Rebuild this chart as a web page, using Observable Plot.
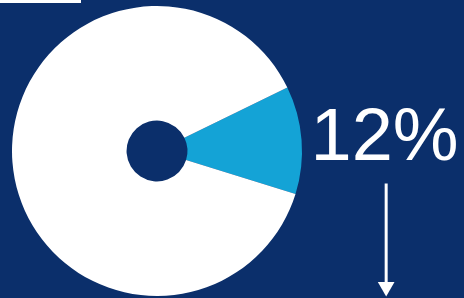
<!DOCTYPE html>
<html>
<head>
<meta charset="utf-8">
<script src="https://cdn.jsdelivr.net/npm/d3@7"></script>
<script src="https://cdn.jsdelivr.net/npm/@observablehq/plot@0.6"></script>
<style>
  html, body { margin: 0; padding: 0; background: #0b2f6b; width: 464px; height: 298px; overflow: hidden; }
  #chart { position: relative; width: 464px; height: 298px; }
  #chart svg { display: block; background: #0b2f6b; }
  .tab { position: absolute; left: 0; top: 0; width: 81px; height: 3px; background: #ffffff; }
</style>
</head>
<body>
<div id="chart"><div class="tab"></div></div>
<script>
// Data
const categories = ["Share", "Rest"];
const values = [12, 88];
const labels = ["12%"];

const colors = { Share: "#14a3d6", Rest: "#ffffff" };
const navy = "#0b2f6b";

const slices = categories.map((c, i) => ({ category: c, value: values[i] }));

// unit scale: pie of radius 1 centered at 0
const pxPerUnit = 145;
const W = 464, H = 298, cx = 157, cy = 151;

const startDeg = 64;
const pie = d3.pie().value(d => d.value).sort(null)
  .startAngle(startDeg * Math.PI / 180)
  .endAngle((startDeg + 360) * Math.PI / 180);

function pieMark(index, scales) {
  const x0 = scales.x(0), y0 = scales.y(0);
  const r = scales.x(1) - scales.x(0);
  const arc = d3.arc().innerRadius(r * 0.21).outerRadius(r);
  const g = d3.create("svg:g").attr("transform", `translate(${x0},${y0})`);
  g.selectAll("path").data(pie(slices)).join("path")
    .attr("d", arc)
    .attr("fill", d => colors[d.data.category]);
  return g.node();
}

const arrowData = [{ x: 1.577, y1: -0.2207, y2: -0.905 }];

const chart = Plot.plot({
  width: W,
  height: H,
  margin: 0,
  style: { background: navy, overflow: "visible" },
  x: { domain: [-cx / pxPerUnit, (W - cx) / pxPerUnit], range: [0, W], axis: null },
  y: { domain: [-(H - cy) / pxPerUnit, cy / pxPerUnit], range: [H, 0], axis: null },
  marks: [
    pieMark,
    Plot.text(labels, {
      x: 1.055, y: -0.062, text: d => d,
      fill: "#ffffff", fontSize: 74, fontFamily: "Liberation Sans, Arial, sans-serif",
      textAnchor: "start", lineAnchor: "bottom"
    }),
    Plot.link(arrowData, {
      x1: "x", x2: "x", y1: "y1", y2: "y2",
      stroke: "#ffffff", strokeWidth: 3
    }),
    Plot.dot(arrowData, {
      x: "x", y: -0.933, symbol: "triangle", r: 6.2, rotate: 180,
      fill: "#ffffff", stroke: null
    })
  ]
});

document.getElementById("chart").prepend(chart);
</script>
</body>
</html>
